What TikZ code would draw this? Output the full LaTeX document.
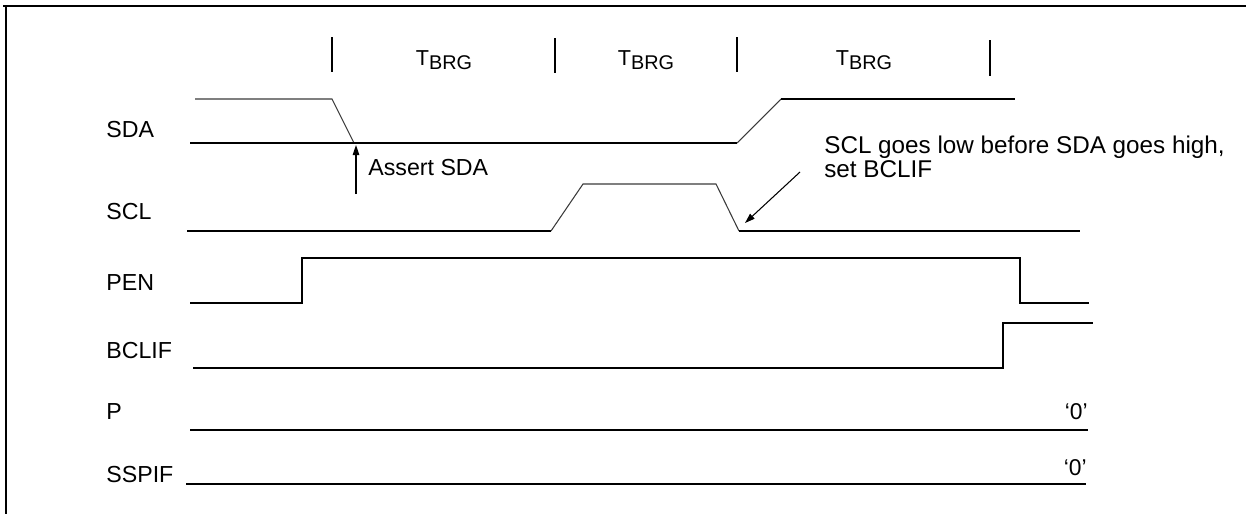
\documentclass[tikz,border=0pt]{standalone}
\usepackage{fontspec}
\setmainfont{Liberation Sans}
\usetikzlibrary{arrows.meta,calc,positioning}
\definecolor{WaveBlack}{HTML}{000000}
\definecolor{WaveGray}{HTML}{3A3A3A}
\tikzset{
  wire/.style={WaveBlack,line width=1.15pt,line join=miter},
  wirethin/.style={WaveGray,line width=0.6pt},
  tick/.style={WaveBlack,line width=1.1pt},
  frameline/.style={WaveBlack,line width=1.7pt},
  callout/.style={WaveBlack,line width=0.6pt,-{Triangle[length=2mm,width=1.3mm]}},
  signame/.style={anchor=west,inner sep=0pt,font=\fontsize{13.2}{15.8}\selectfont},
  note/.style={anchor=west,inner sep=0pt,align=left,font=\fontsize{13.8}{13.6}\selectfont},
  period/.style={inner sep=0pt,font=\fontsize{12.3}{14}\selectfont},
  zeromark/.style={anchor=east,inner sep=0pt,font=\fontsize{13}{15}\selectfont}
}
\newcommand{\tbrg}{T\raisebox{-0.09cm}{\fontsize{11.3}{13}\selectfont BRG}}

\begin{document}
\begin{tikzpicture}[x=0.02cm,y=-0.02cm]
        \useasboundingbox (0,0) rectangle (1246,514);
        \draw[frameline] (3,6) -- (1246,6);
        \draw[WaveBlack,line width=1.1pt] (6,6) -- (6,514);

        \draw[tick] (332,37) -- (332,72);
        \draw[tick] (555,38) -- (555,73);
        \draw[tick] (737,37) -- (737,72);
        \draw[tick] (990,40) -- (990,76);
        \node[period] (brg1) at (444,60) {\tbrg};
        \node[period] (brg2) at (646,60) {\tbrg};
        \node[period] (brg3) at (864,60) {\tbrg};

        \node[signame] (sda) at (106,130) {SDA};
        \node[signame] (scl) at (106,212) {SCL};
        \node[signame] (pen) at (106,283) {PEN};
        \node[signame] (bclif) at (106,351) {BCLIF};
        \node[signame] (p) at (106,412) {P};
        \node[signame] (sspif) at (106,475) {SSPIF};

        \draw[wirethin] (195,99) -- (332,99) -- (354,143);
        \draw[wire] (190,143) -- (737,143);
        \draw[wirethin] (737,143) -- (781,99);
        \draw[wire] (781,99) -- (1015,99);

        \draw[wire] (187,231) -- (551,231);
        \draw[wirethin] (551,231) -- (583,184) -- (716,184) -- (739,231);
        \draw[wire] (739,231) -- (1080,231);

        \draw[wire] (190,303) -| (302,258) -| (1020,303) -- (1089,303);
        \draw[wire] (193,368) -| (1003,323) -- (1093,323);
        \draw[wire] (190,430) -- (1088,430);
        \draw[wire] (186,484) -- (1086,484);

        \coordinate (assert tail) at (356,194);
        \coordinate (assert tip) at (356,145);
        \draw[callout] (assert tail) -- (assert tip);
        \node[signame] (assert) at (368,168) {Assert SDA};

        \node[note] (sclnote) at (824,157)
          {SCL goes low before SDA goes high,\\set BCLIF};
        \coordinate (scl tail) at (800,172);
        \coordinate (scl tip) at (745,223);
        \draw[callout] (scl tail) -- (scl tip);

        \node[zeromark] (pzero) at (1088,412) {`0'};
        \node[zeromark] (sspifzero) at (1087,468) {`0'};
      \end{tikzpicture}
\end{document}
